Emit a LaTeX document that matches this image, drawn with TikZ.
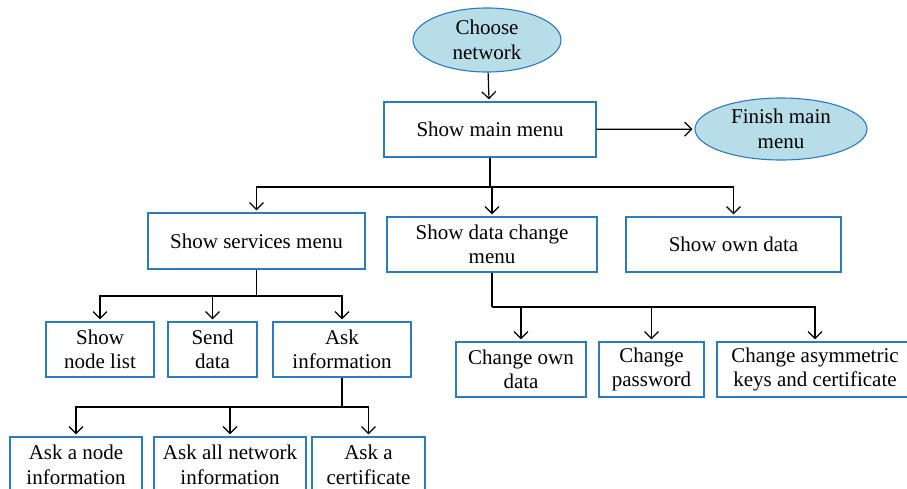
\documentclass[tikz,border=0pt]{standalone}
\usepackage{fontspec}
\setmainfont{Liberation Serif}
\usetikzlibrary{arrows.meta,shapes.geometric}
\definecolor{boxblue}{RGB}{46,122,192}
\definecolor{ovalfill}{RGB}{183,221,232}
\tikzset{
  stepbox/.style={draw=boxblue,line width=1.2pt,rectangle,inner sep=0pt,align=center,
    font=\fontsize{21}{24.5}\selectfont},
  oval/.style={draw=boxblue,fill=ovalfill,line width=1.1pt,ellipse,inner sep=0pt,align=center,
    font=\fontsize{21}{24.5}\selectfont},
  link/.style={line width=1.2pt,black},
  stem/.style={line width=1.6pt,black},
  arr/.style={link,-{Straight Barb[length=7pt,width=14pt,line width=1.2pt]},shorten >=2pt},
}
% place a box by its corners (x1,y1) (x2,y2), in pixel coordinates from the top left
\newcommand{\boxat}[6]{%
  \node[stepbox,minimum width=#4-#2,minimum height=#5-#3] (#1)
    at ({(#2+#4)/2},{(#3+#5)/2}) {#6};}
\begin{document}
\begin{tikzpicture}[x=1pt,y=-1pt]
\useasboundingbox (0,0) rectangle (907,489);
\clip (0,0) rectangle (907,489);

% start and end ovals
\node[oval,minimum width=148,minimum height=64] (choose) at (487,40) {Choose\\network};
\node[oval,minimum width=172,minimum height=62] (finish) at (781,129) {Finish main\\menu};

% main menu level
\boxat{main}{384}{102}{596}{157}{Show main menu}

% second level
\boxat{svc}{148}{213}{365}{269}{Show services menu}
\boxat{chg}{387}{217}{597}{272}{Show data change\\menu}
\boxat{own}{626}{217}{841}{272}{Show own data}

% services submenu
\boxat{list}{46}{322}{154}{377}{Show\\node list}
\boxat{send}{168}{322}{257}{377}{Send\\data}
\boxat{ask}{273}{322}{411}{377}{Ask\\information}

% information requests
\boxat{asknode}{10}{437}{142}{493}{Ask a node\\information}
\boxat{askall}{154}{437}{306}{493}{Ask all network\\information}
\boxat{askcert}{312}{437}{425}{493}{Ask a\\certificate}

% data change submenu
\boxat{chown}{456}{342}{586}{397}{Change own\\data}
\boxat{chpass}{599}{342}{704}{397}{Change\\password}
\boxat{chkeys}{717}{342}{913}{397}{Change asymmetric\\keys and certificate}

% junction points of the branching connectors
\coordinate (jmain) at (main.south |- 0,187);
\coordinate (jsvc) at (svc.south |- 0,296);
\coordinate (jask) at (ask.south |- 0,407);
\coordinate (jchg) at (chg.south |- 0,307);

% connectors
\draw[arr] (choose) -- (main);
\draw[arr] (main) -- (finish);

\draw[stem] (main.south) -- (jmain);
\draw[arr] (jmain) -| (svc.north);
\draw[arr] (jmain) -| (chg.north);
\draw[arr] (jmain) -| (own.north);

\draw[stem] (svc.south) -- (jsvc);
\draw[arr] (jsvc) -| (list.north);
\draw[arr] (jsvc) -| (send.north);
\draw[arr] (jsvc) -| (ask.north);

\draw[stem] (ask.south) -- (jask);
\draw[arr] (jask) -| (asknode.north);
\draw[arr] (jask) -| (askall.north);
\draw[arr] (jask) -| (askcert.north);

\draw[stem] (chg.south) -- (jchg);
\draw[arr] (jchg) -| (chown.north);
\draw[arr] (jchg) -| (chpass.north);
\draw[arr] (jchg) -| (chkeys.north);
\end{tikzpicture}
\end{document}
